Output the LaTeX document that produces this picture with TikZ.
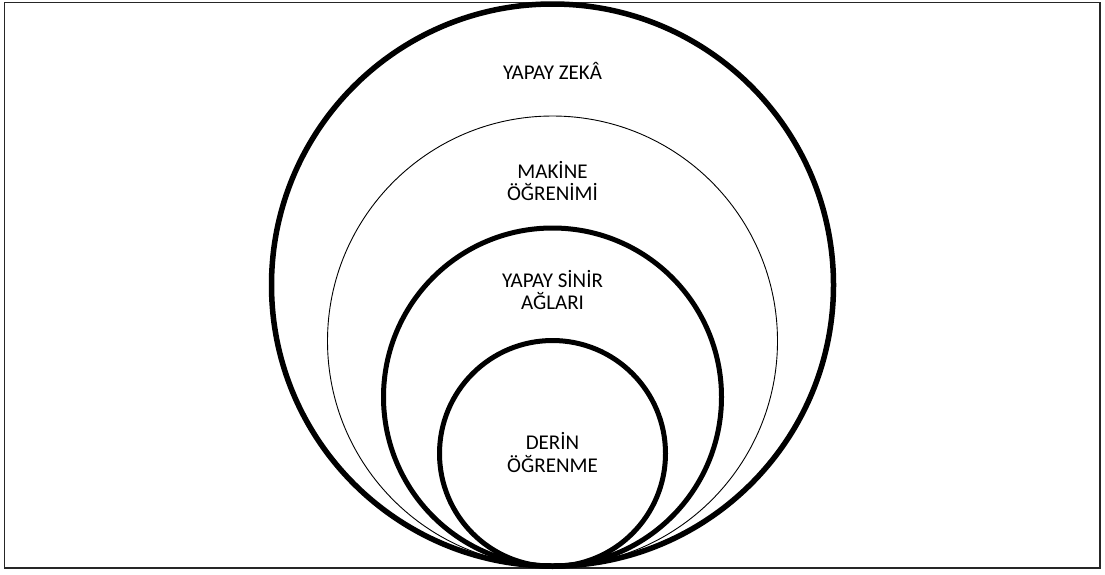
\documentclass[tikz,border=0pt]{standalone}
\usepackage{fontspec}
\setmainfont{Carlito}
\begin{document}
\begin{tikzpicture}[x=1pt,y=-1pt,
  ring/.style={circle,draw,inner sep=0pt,line width=5.5pt},
  thinring/.style={circle,draw,inner sep=0pt,line width=0.9pt},
  lbl/.style={anchor=base,inner sep=0pt,font=\fontsize{21}{23}\selectfont}]
\useasboundingbox (0,0) rectangle (1105,574);
\draw[line width=1.4pt,black!85] (4.3,2.7) rectangle (1100,568);
\node[ring,minimum size=562pt] (ai) at (552.5,285) {};
\node[thinring,minimum size=450pt] (ml) at (552.5,341) {};
\node[ring,line width=5pt,minimum size=338pt] (ann) at (552.5,397) {};
\node[ring,line width=5pt,minimum size=226pt] (dl) at (552.5,453.5) {};
\node[lbl] (t1) at (552.5,79.3) {YAPAY ZEKÂ};
\node[lbl] (t2a) at (552.5,178.3) {MAKİNE};
\node[lbl] (t2b) at (552.5,200.7) {ÖĞRENİMİ};
\node[lbl] (t3a) at (552.5,287.3) {YAPAY SİNİR};
\node[lbl] (t3b) at (552.5,309.3) {AĞLARI};
\node[lbl] (t4a) at (552.5,449.3) {DERİN};
\node[lbl] (t4b) at (552.5,472.5) {ÖĞRENME};
\end{tikzpicture}
\end{document}
